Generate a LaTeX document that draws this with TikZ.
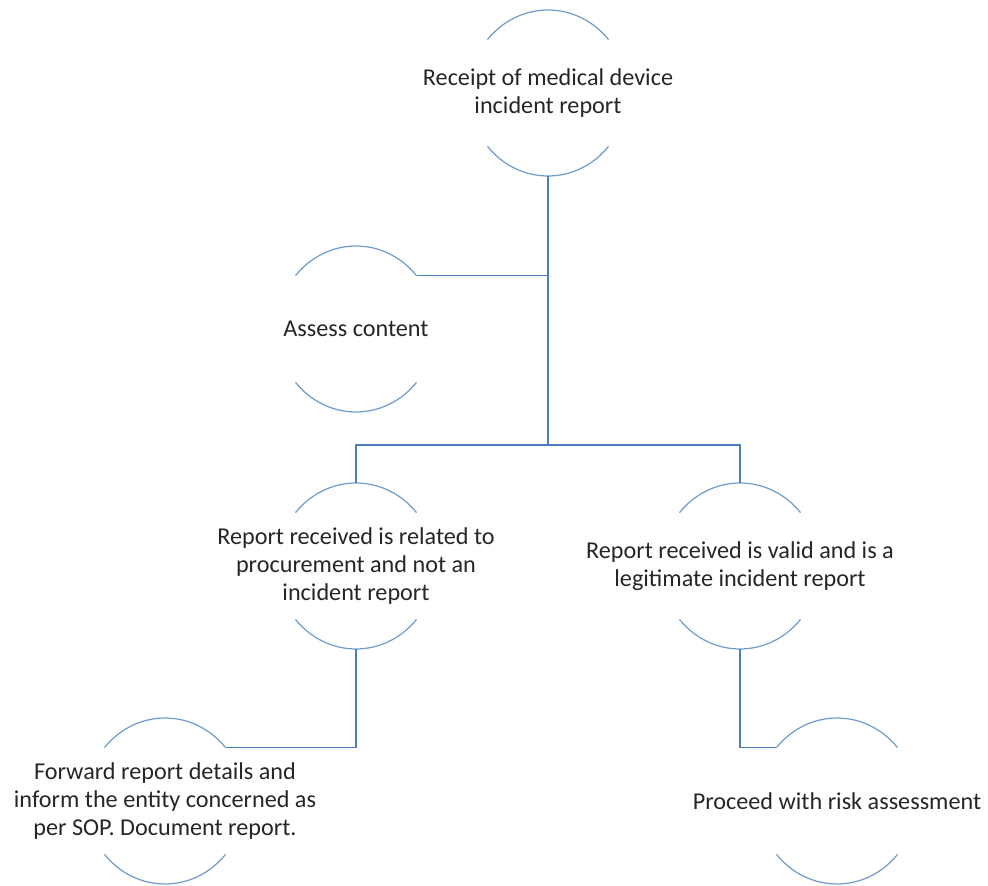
\documentclass[tikz,border=0pt]{standalone}
\usepackage{fontspec}
\setmainfont{Carlito}
\usetikzlibrary{calc}

\definecolor{arcblue}{HTML}{6E9BCB}
\definecolor{linkblue}{HTML}{4A7EBB}
\definecolor{txtgray}{HTML}{262626}

\tikzset{
  arcline/.style={draw=arcblue, line width=1.2pt},
  conn/.style={draw=linkblue, line width=1.6pt},
  trunk/.style={draw=linkblue, line width=2.4pt},
  txt/.style={text=txtgray, align=center, inner sep=0pt,
    font=\fontsize{24.2}{28}\selectfont},
  % a bubble: two facing arcs with the label between them
  bubble/.pic={
    \draw[arcline] (140:79pt and 83pt) arc[start angle=140, end angle=40, x radius=79pt, y radius=83pt];
    \draw[arcline] (220:79pt and 83pt) arc[start angle=220, end angle=320, x radius=79pt, y radius=83pt];
    \coordinate (-n)  at (0,83pt);
    \coordinate (-s)  at (0,-83pt);
    \coordinate (-ne) at (40:79pt and 83pt);
    \coordinate (-nw) at (140:79pt and 83pt);
    \node[txt] (-t) at (0,0) {\tikzpictext};
  }
}

\begin{document}
\begin{tikzpicture}[x=1pt, y=1pt]
  \useasboundingbox (0,0) rectangle (988,886);

  \pic (top)     at (548,793) [pic text={Receipt of medical device\\incident report}] {bubble};
  \pic (assess)  at (356,557) [pic text={Assess content}] {bubble};
  \pic (left2)   at (356,320) [pic text={Report received is related to\\procurement and not an\\incident report}] {bubble};
  \pic (right2)  at (740,320) [pic text={Report received is valid and is a\\legitimate incident report}] {bubble};
  \pic (fwd)     at (165,85)  [pic text={Forward report details and\\inform the entity concerned as\\per SOP. Document report.}] {bubble};
  \pic (proceed) at (837,85)  [pic text={Proceed with risk assessment}] {bubble};

  \coordinate (split) at (548,441);

  \draw[trunk] (top-s) -- (split);
  \draw[conn] (assess-ne) -- (assess-ne -| top-s);
  \draw[conn] (left2-n) |- (split) -| (right2-n);
  \draw[conn] (left2-s) |- (fwd-ne);
  \draw[conn] (right2-s) |- (proceed-nw);
\end{tikzpicture}
\end{document}
